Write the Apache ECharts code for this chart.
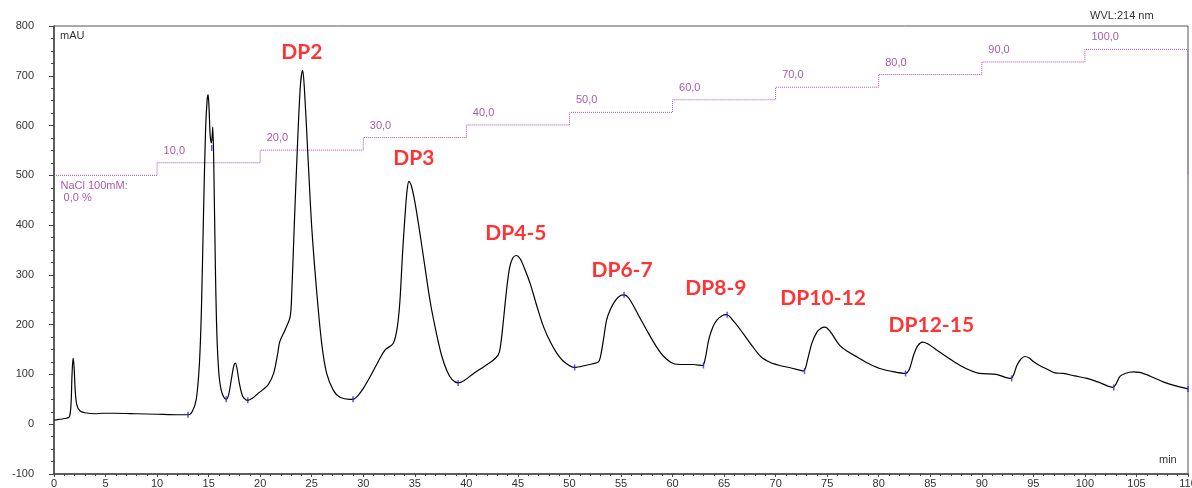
<!DOCTYPE html>
<html>
<head>
<meta charset="utf-8">
<script src="https://cdn.jsdelivr.net/npm/echarts@6/dist/echarts.min.js"></script>
<style>
  html, body { margin: 0; padding: 0; background: #ffffff; overflow: hidden; }
  #chart { width: 1192px; height: 488px; display: block; }
</style>
</head>
<body>
<div id="chart"></div>
<script>
// Absorbance trace at 214 nm: [time (min), signal (mAU)]
const traceTime = [0, 0.6, 1.2, 1.5, 1.65, 1.75, 1.85, 1.95, 2.05, 2.2, 2.5, 3, 4, 4.7, 6, 8, 10, 12, 13,
  13.4, 13.8, 14.1, 14.3, 14.5, 14.7, 14.85, 14.95, 15.05, 15.15, 15.28, 15.4, 15.5, 15.65, 15.8, 16.0, 16.2, 16.45, 16.7,
  16.95, 17.2, 17.45, 17.6, 17.75, 18.0, 18.3, 18.6, 18.8,
  19.3, 19.8, 20.3, 20.8, 21.3, 21.7, 21.9, 22.4, 22.9, 23.06, 23.3, 23.6, 23.9, 24.12, 24.3, 24.6, 25.0, 25.5, 25.97,
  26.45, 27.1, 27.74, 28.7, 29.0,
  29.5, 30.0, 30.65, 31.3, 32.1, 32.9, 33.3, 33.56, 33.8, 34.04, 34.25, 34.43, 34.65, 35.0, 35.5, 35.98, 36.5, 37.1,
  37.6, 38.1, 38.6, 39.2, 39.8, 40.7, 41.8, 42.8, 43.2, 43.5, 43.9, 44.2, 44.5, 44.85, 45.2, 45.6, 46.2, 46.8, 47.5, 48.2, 48.8,
  49.5, 50.5, 51.5, 52.8, 53.0, 53.3, 53.6, 54.0, 54.5, 55.0, 55.3, 55.8, 56.8, 57.6, 58.46, 59.2, 60.07, 61, 62, 62.9,
  63.2, 63.5, 63.9, 64.3, 64.8, 65.24, 66.0, 66.86, 67.7, 68.6, 69.5, 70.4, 71.5, 72.7, 73.1, 73.5, 74.0, 74.4, 74.8, 75.3,
  76.2, 77.0, 77.9, 79.0, 80.1, 81.5, 82.6, 83.0, 83.4, 83.8, 84.25, 84.7, 85.3, 85.9, 86.9, 87.9, 88.9, 89.8, 91.4, 92.8, 93.1,
  93.4, 93.8, 94.2, 94.6, 95.0, 95.6, 96.4, 97.1, 97.9, 99.0, 100.2, 101.5, 102.7, 103.0, 103.4, 103.9, 104.7, 105.3, 106.4,
  107.6, 108.8, 110];
const traceSignal = [8, 10, 12, 15, 40, 100, 133, 115, 70, 40, 27, 23, 21, 22, 22, 21, 20, 19, 19,
  25, 50, 120, 230, 420, 590, 650, 662, 630, 580, 565, 597, 520, 320, 180, 100, 70, 55, 50,
  60, 90, 118, 123, 112, 80, 56, 49, 48,
  53, 62, 70, 80, 102, 142, 166, 189, 215, 262, 396, 552, 680, 711, 670, 552, 396, 262, 162,
  102, 68, 54, 50, 50,
  58, 72, 95, 120, 149, 162, 195, 249, 340, 416, 470, 488, 480, 447, 383, 316, 245, 182,
  138, 108, 90, 83, 88, 102, 117, 132, 145, 190, 270, 315, 334, 339, 333, 315, 282, 240, 195, 163, 142,
  125, 114, 118, 125, 135, 170, 209, 232, 250, 259, 260, 252, 215, 185, 155, 135, 122, 120, 120, 118,
  135, 169, 195, 209, 218, 220, 205, 182, 158, 135, 124, 118, 113, 107, 130, 162, 185, 193, 195, 186,
  159, 146, 135, 122, 112, 105, 102, 112, 140, 158, 165, 162, 154, 145, 131, 118, 108, 102, 100, 92, 100,
  118, 131, 136, 133, 126, 118, 110, 103, 102, 97, 92, 83, 74, 80, 96, 102, 105, 104, 96,
  85, 77, 71];

// Integration delimiters (blue ticks) on the trace
const markTime = [13.0, 15.3, 16.7, 18.8, 29.0, 39.2, 50.5, 55.3, 63.0, 65.3, 72.8, 82.6, 92.9, 102.8, 110];
const markSignal = [19, 555, 50, 48, 50, 83, 114, 260, 118, 220, 107, 102, 92, 74, 71];

// Step gradient, NaCl 100mM (%)
const gradTime = [0, 10, 20, 30, 40, 50, 60, 70, 80, 90, 100, 110, 110];
const gradPct = [0, 10, 20, 30, 40, 50, 60, 70, 80, 90, 100, 100, 0];

// Peak annotations
const dpNames = ['DP2', 'DP3', 'DP4-5', 'DP6-7', 'DP8-9', 'DP10-12', 'DP12-15'];
const dpTime = [24.05, 34.9, 44.8, 55.1, 64.2, 74.6, 85.1];
const dpLevel = [747, 534, 383, 309, 273, 253, 199];

// Axis ticks
const xTicks = { min: 0, max: 110, step: 5 };
const yTicks = { min: -100, max: 800, step: 100 };

const axisFont = 'Liberation Sans, Arial, sans-serif';
const gradLine = '#b048b0';
const gradText = '#94308f';

const trace = traceTime.map((t, i) => [t, traceSignal[i]]);
const marks = markTime.map((t, i) => [t, markSignal[i]]);
const grad = gradTime.map((t, i) => [t, gradPct[i]]);
const gradLabels = gradTime.slice(0, 11).map((t, i) => ({
  value: [t, gradPct[i]],
  label: i === 0
    ? { formatter: 'NaCl 100mM:\n 0,0 %', offset: [0, 17] }
    : { formatter: gradPct[i].toFixed(1).replace('.', ','), offset: [0, -12] }
}));
const dpData = dpNames.map((n, i) => ({ name: n, value: [dpTime[i], dpLevel[i]] }));

const plainText = { fontFamily: axisFont, fontSize: 11, fontWeight: 'normal', color: '#333' };

const chart = echarts.init(document.getElementById('chart'), null, { renderer: 'canvas', width: 1192, height: 488 });
chart.setOption({
  animation: false,
  backgroundColor: '#ffffff',
  title: [
    { text: 'mAU', left: 60, top: 30, padding: 0, textStyle: plainText },
    { text: 'WVL:214 nm', left: 1090, top: 10, padding: 0, textStyle: plainText },
    { text: 'min', left: 1159, top: 454, padding: 0, textStyle: plainText }
  ],
  grid: {
    left: 54, right: 4, top: 26, bottom: 14, outerBoundsMode: 'none', containLabel: false,
    show: true, borderColor: '#555', borderWidth: 1, backgroundColor: 'transparent'
  },
  xAxis: {
    type: 'value', min: xTicks.min, max: xTicks.max, interval: xTicks.step,
    axisLine: { onZero: false, lineStyle: { color: '#444', width: 1.5 } },
    axisTick: { inside: false, length: 3, lineStyle: { color: '#444' } },
    minorTick: { show: true, splitNumber: 5, length: 2, lineStyle: { color: '#444' } },
    axisLabel: { margin: 4, fontFamily: axisFont, fontSize: 11, color: '#333', hideOverlap: false },
    splitLine: { show: false }
  },
  yAxis: [{
    type: 'value', min: yTicks.min, max: yTicks.max, interval: yTicks.step,
    axisLine: { show: true, onZero: false, lineStyle: { color: '#444', width: 1.5 } },
    axisTick: { show: true, inside: false, length: 5, lineStyle: { color: '#444' } },
    minorTick: { show: true, splitNumber: 4, length: 3, lineStyle: { color: '#444' } },
    axisLabel: { margin: 20, fontFamily: axisFont, fontSize: 11, color: '#333' },
    splitLine: { show: false }
  }, {
    // gradient scale in %, 0 % sits at 500 mAU and 100 % at 753 mAU
    type: 'value', show: false, min: -237.15, max: 118.58,
    splitLine: { show: false }
  }],
  series: [
    {
      type: 'line', yAxisIndex: 1, data: grad, step: 'end', showSymbol: false, silent: true,
      lineStyle: { color: gradLine, width: 1, type: [1, 1] }, z: 1
    },
    {
      type: 'scatter', yAxisIndex: 1, data: gradLabels, symbolSize: 1, silent: true,
      itemStyle: { color: 'rgba(0,0,0,0)' },
      label: { show: true, position: 'right', distance: 6, align: 'left', verticalAlign: 'middle',
        fontFamily: axisFont, fontSize: 11, color: gradText, lineHeight: 12 },
      z: 2
    },
    {
      type: 'line', data: trace, showSymbol: false, smooth: 0.3, silent: true,
      lineStyle: { color: '#000', width: 1.2 }, z: 3
    },
    {
      type: 'scatter', data: marks, symbol: 'rect', symbolSize: [1.5, 6], silent: true,
      itemStyle: { color: '#2a2aff' }, z: 4
    },
    {
      type: 'scatter', data: dpData, symbolSize: 1, silent: true,
      itemStyle: { color: 'rgba(0,0,0,0)' },
      label: { show: true, position: 'inside', formatter: '{b}', fontFamily: 'Lato, Open Sans, sans-serif',
        fontWeight: 'bold', fontSize: 21, color: '#ff0000' },
      z: 5
    }
  ]
});
</script>
</body>
</html>
